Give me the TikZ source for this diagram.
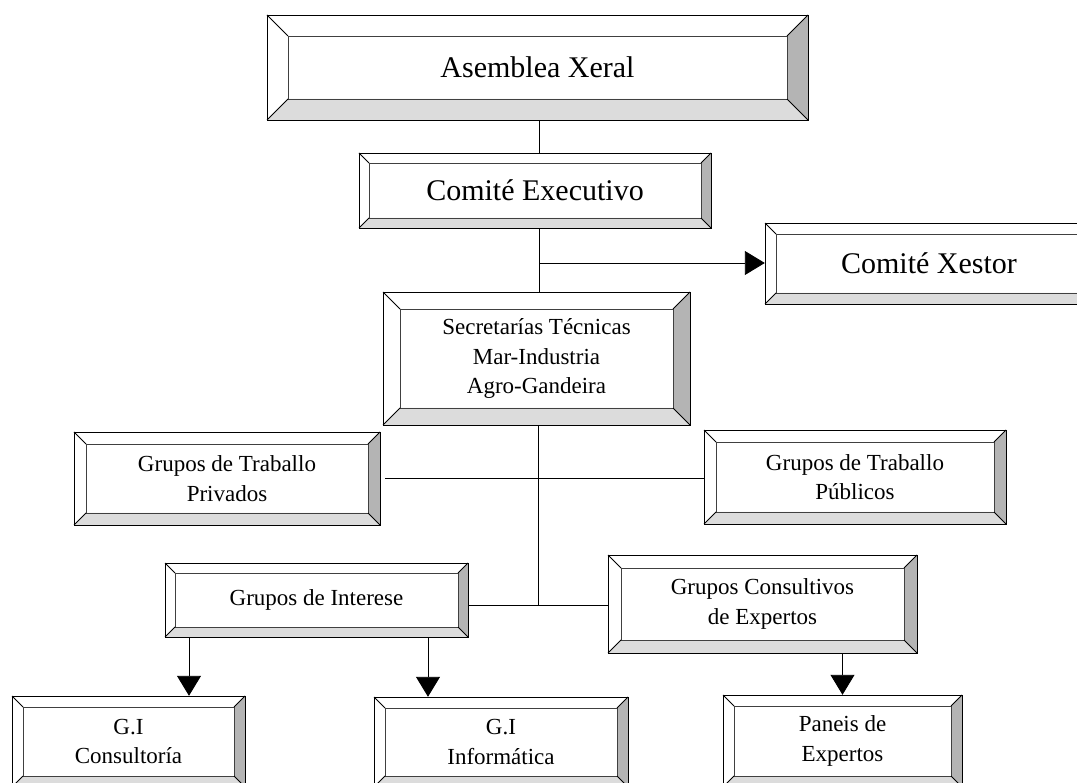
\documentclass[tikz,border=0pt]{standalone}
\usepackage{fontspec}
\setmainfont{Liberation Serif}
\usetikzlibrary{arrows.meta}
\definecolor{bevR}{HTML}{B4B4B4}
\definecolor{bevB}{HTML}{DCDCDC}
\definecolor{innerline}{HTML}{404040}
\tikzset{
  frame/.style={draw=black,line width=0.9pt},
  innerframe/.style={draw=innerline,line width=0.9pt},
  boxtext/.style={inner sep=0pt,align=center,text=black},
  bigtext/.style={font=\fontsize{30}{36}\selectfont},
  smalltext/.style={font=\fontsize{23}{29.5}\selectfont},
  conn/.style={draw=black,line width=0.9pt},
  arr/.style={conn,-{Triangle[width=24pt,length=20pt]}},
}
\newcommand\bevbox[8]{%
  \pgfmathsetmacro\bxA{#2+#6}\pgfmathsetmacro\bxB{#4-#6}%
  \pgfmathsetmacro\byA{#3+#6}\pgfmathsetmacro\byB{#5-#6}%
  \pgfmathsetmacro\bW{#4-#2}\pgfmathsetmacro\bH{#5-#3}%
  \fill[white] (#2,#3) rectangle (#4,#5);
  \fill[bevR] (#4,#3) -- (#4,#5) -- (\bxB,\byB) -- (\bxB,\byA) -- cycle;
  \fill[bevB] (#2,#5) -- (\bxA,\byB) -- (\bxB,\byB) -- (#4,#5) -- cycle;
  \draw[innerframe] (\bxA,\byA) rectangle (\bxB,\byB);
  \draw[frame] (#2,#3) -- (\bxA,\byA) (#4,#3) -- (\bxB,\byA) (#2,#5) -- (\bxA,\byB) (#4,#5) -- (\bxB,\byB);
  \draw[frame] (#2,#3) rectangle (#4,#5);
  \node[boxtext,#7,minimum width=\bW pt,minimum height=\bH pt] (#1) at ({(#2+#4)/2},{(#3+#5)/2}) {#8};
}
\begin{document}
\begin{tikzpicture}[x=1pt,y=-1pt]
\useasboundingbox (0,0) rectangle (1077,783);
\clip (0,0) rectangle (1077,783);
\fill[white] (0,0) rectangle (1077,783);

% connectors first (behind boxes)
\coordinate (j1) at (539,263);
\coordinate (j3) at (538,605);
\coordinate (t1) at (189,0);
\coordinate (t2) at (428,0);

\bevbox{asm}{267}{15}{808}{120}{21}{bigtext}{Asemblea Xeral}
\bevbox{exec}{359}{153}{711}{228}{10}{bigtext}{Comité Executivo}
\bevbox{xes}{765}{223}{1093}{304}{11}{bigtext}{Comité Xestor}
\bevbox{secr}{383}{292}{690}{425}{17}{smalltext}{Secretarías Técnicas\\Mar-Industria\\Agro-Gandeira}
\bevbox{priv}{74}{432}{380}{525}{12}{smalltext}{Grupos de Traballo\\Privados}
\bevbox{pub}{704}{430}{1006}{524}{12}{smalltext}{Grupos de Traballo\\Públicos}
\bevbox{int}{165}{563}{468}{637}{10}{smalltext}{Grupos de Interese}
\bevbox{cons}{608}{555}{917}{653}{13}{smalltext}{Grupos Consultivos\\de Expertos}
\bevbox{gi1}{12}{696}{245}{787}{11}{smalltext}{G.I\\Consultoría}
\bevbox{gi2}{374}{697}{628}{787}{11}{smalltext}{G.I\\Informática}
\bevbox{pan}{723}{695}{962}{787}{11}{smalltext}{Paneis de\\Expertos}

\draw[conn] (j1 |- asm.south) -- (j1 |- exec.north);
\draw[conn] (j1 |- exec.south) -- (j1 |- secr.north);
\draw[arr] (j1) -- (xes.west |- j1);
\draw[conn] (j3 |- secr.south) -- (j3);
\draw[conn] ([xshift=5pt]priv.east |- 0,478) -- (pub.west |- 0,478);
\draw[conn] (int.east |- j3) -- (cons.west |- j3);
\draw[arr] (t1 |- int.south) -- (t1 |- gi1.north);
\draw[arr] (t2 |- int.south) -- (t2 |- gi2.north);
\draw[arr] (pan.north |- cons.south) -- (pan.north);
\end{tikzpicture}
\end{document}
